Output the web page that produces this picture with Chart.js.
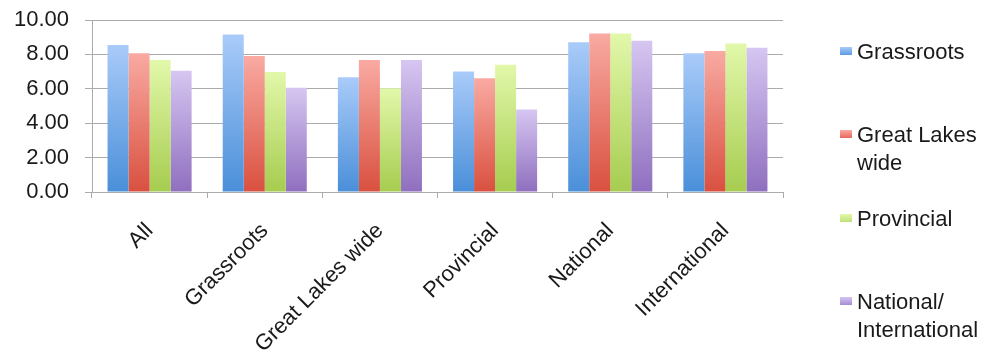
<!DOCTYPE html>
<html>
<head>
<meta charset="utf-8">
<script src="https://cdn.jsdelivr.net/npm/chart.js@4/dist/chart.umd.min.js"></script>
<style>
  html, body { margin: 0; padding: 0; background: #fff; }
  .wrap { position: relative; width: 985px; height: 356px; }
  #legend { position: absolute; left: 840px; top: 38px; font-family: "Liberation Sans", Arial, sans-serif; font-size: 22px; line-height: 28px; color: #1a1a1a; }
  .item { position: relative; height: 83.3px; padding-left: 17px; width: 128px; }
  .swatch { position: absolute; left: 0; top: 9px; width: 12px; height: 8px; }
</style>
</head>
<body>
<div class="wrap">
  <canvas id="chart" width="985" height="356"></canvas>
  <div id="legend"></div>
</div>
<script>
// categories and series
const categories = ["All", "Grassroots", "Great Lakes wide", "Provincial", "National", "International"];
const seriesNames = ["Grassroots", "Great Lakes wide", "Provincial", "National/ International"];
const grassroots = [8.55, 9.15, 6.67, 7.01, 8.70, 8.06];
const greatLakes = [8.06, 7.91, 7.67, 6.61, 9.21, 8.20];
const provincial = [7.67, 6.98, 6.03, 7.40, 9.21, 8.64];
const nationalIntl = [7.05, 6.06, 7.67, 4.79, 8.80, 8.39];
const yTicks = [0, 2, 4, 6, 8, 10];

// top / bottom of each bar gradient, plus legend swatch colour
const fills = [
  ["#a9cbf9", "#4a8fd9", "#5b9be2"],
  ["#f9aaa2", "#d9503f", "#e8675d"],
  ["#e2f8aa", "#a6cc4f", "#bfe07a"],
  ["#d6c6f1", "#8f6fbf", "#a58bd3"],
];

function barFill(ctx) {
  const [top, bottom] = fills[ctx.datasetIndex];
  const chart = ctx.chart;
  if (!chart.chartArea || ctx.type !== "data") return bottom;
  const y = chart.scales.y;
  const yTop = y.getPixelForValue(ctx.parsed.y);
  const yBase = y.getPixelForValue(0);
  const g = chart.ctx.createLinearGradient(0, yTop, 0, yBase);
  g.addColorStop(0, top);
  g.addColorStop(1, bottom);
  return g;
}

const font = { family: '"Liberation Sans", Arial, sans-serif', size: 22 };
const gridColor = "#ababab";

const chart = new Chart(document.getElementById("chart"), {
  type: "bar",
  data: {
    labels: categories,
    datasets: [grassroots, greatLakes, provincial, nationalIntl].map((data, i) => ({
      label: seriesNames[i],
      data,
      backgroundColor: barFill,
      borderWidth: 0,
      categoryPercentage: 0.73,
      barPercentage: 1.0,
    })),
  },
  options: {
    responsive: false,
    animation: false,
    layout: { padding: { top: 20, right: 202, left: 0, bottom: 0 } },
    plugins: { legend: { display: false }, tooltip: { enabled: false } },
    scales: {
      x: {
        grid: { drawOnChartArea: false, color: gridColor, tickLength: 6 },
        border: { color: gridColor },
        ticks: { font, color: "#1a1a1a", minRotation: 45, maxRotation: 45, autoSkip: false, padding: 20 },
        afterFit: (s) => { s.height = 164; },
      },
      y: {
        min: 0,
        max: 10,
        afterBuildTicks: (s) => { s.ticks = yTicks.map((v) => ({ value: v })); },
        grid: { color: gridColor, tickLength: 7 },
        border: { color: gridColor },
        ticks: { font, color: "#1a1a1a", padding: 16, callback: (v) => Number(v).toFixed(2) },
        afterFit: (s) => {
          s.width = 92;
          s.paddingTop = 0;
          s.paddingBottom = 0;
        },
      },
    },
  },
});

document.getElementById("legend").innerHTML = chart.data.datasets
  .map((d, i) => `<div class="item"><span class="swatch" style="background:linear-gradient(${fills[i][0]}, ${fills[i][2]})"></span>${d.label}</div>`)
  .join("");
</script>
</body>
</html>
